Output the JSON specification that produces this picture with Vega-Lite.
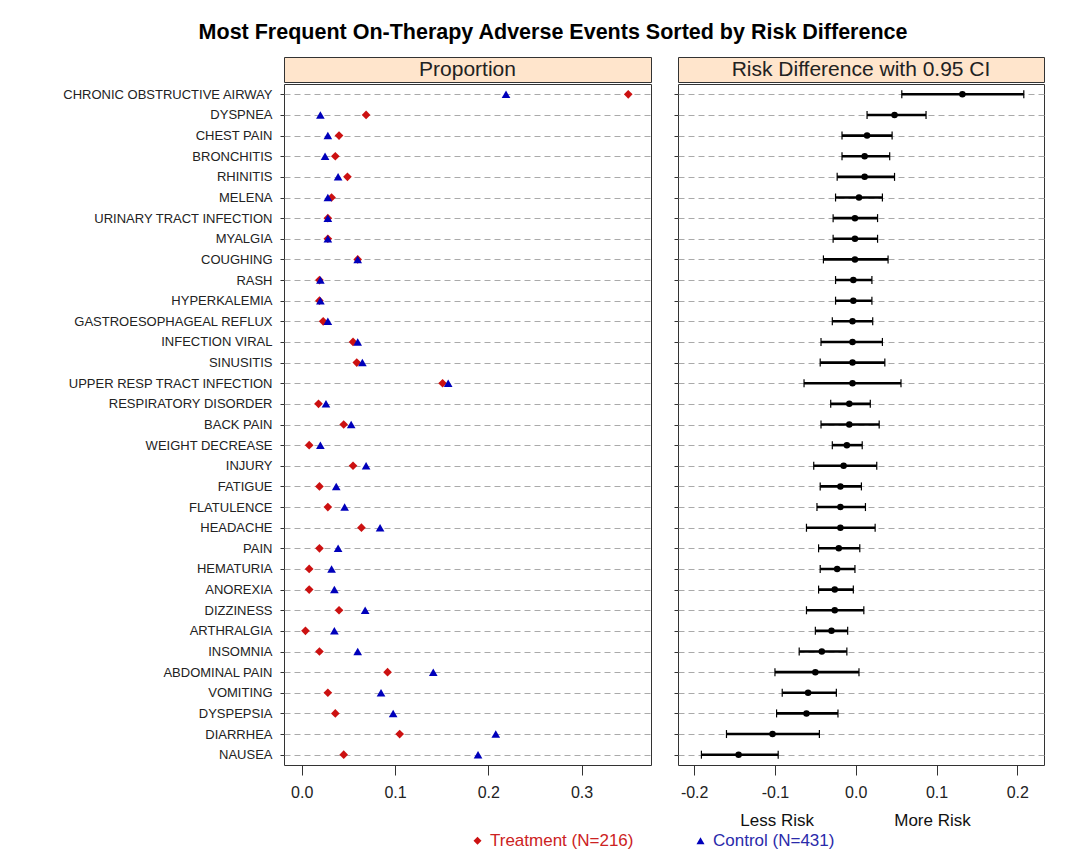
{
  "$schema": "https://vega.github.io/schema/vega-lite/v6.json",
  "padding": {"left": 61, "top": 22, "right": 10, "bottom": 5},
  "background": "white",
  "title": {
    "text": "Most Frequent On-Therapy Adverse Events Sorted by Risk Difference",
    "anchor": "middle",
    "fontSize": 21.5,
    "fontWeight": "bold",
    "font": "Liberation Sans",
    "color": "#000000",
    "offset": 13
  },
  "config": {
    "font": "Liberation Sans",
    "view": {"stroke": "#333333"},
    "axis": {"labelFont": "Liberation Sans", "titleFont": "Liberation Sans"},
    "legend": {"labelFont": "Liberation Sans"}
  },
  "datasets": {
    "ae": [
      {"event": "CHRONIC OBSTRUCTIVE AIRWAY", "treatment": 0.350, "control": 0.219, "rd": 0.132, "lo": 0.057, "hi": 0.208},
      {"event": "DYSPNEA", "treatment": 0.069, "control": 0.020, "rd": 0.048, "lo": 0.014, "hi": 0.087},
      {"event": "CHEST PAIN", "treatment": 0.040, "control": 0.028, "rd": 0.014, "lo": -0.017, "hi": 0.045},
      {"event": "BRONCHITIS", "treatment": 0.036, "control": 0.025, "rd": 0.011, "lo": -0.017, "hi": 0.042},
      {"event": "RHINITIS", "treatment": 0.049, "control": 0.039, "rd": 0.011, "lo": -0.023, "hi": 0.048},
      {"event": "MELENA", "treatment": 0.032, "control": 0.028, "rd": 0.004, "lo": -0.025, "hi": 0.033},
      {"event": "URINARY TRACT INFECTION", "treatment": 0.028, "control": 0.028, "rd": -0.001, "lo": -0.028, "hi": 0.027},
      {"event": "MYALGIA", "treatment": 0.028, "control": 0.028, "rd": -0.001, "lo": -0.028, "hi": 0.027},
      {"event": "COUGHING", "treatment": 0.060, "control": 0.060, "rd": -0.001, "lo": -0.040, "hi": 0.040},
      {"event": "RASH", "treatment": 0.019, "control": 0.020, "rd": -0.003, "lo": -0.025, "hi": 0.020},
      {"event": "HYPERKALEMIA", "treatment": 0.019, "control": 0.020, "rd": -0.003, "lo": -0.025, "hi": 0.020},
      {"event": "GASTROESOPHAGEAL REFLUX", "treatment": 0.023, "control": 0.028, "rd": -0.004, "lo": -0.029, "hi": 0.021},
      {"event": "INFECTION VIRAL", "treatment": 0.055, "control": 0.060, "rd": -0.004, "lo": -0.043, "hi": 0.033},
      {"event": "SINUSITIS", "treatment": 0.059, "control": 0.065, "rd": -0.004, "lo": -0.044, "hi": 0.036},
      {"event": "UPPER RESP TRACT INFECTION", "treatment": 0.151, "control": 0.157, "rd": -0.004, "lo": -0.064, "hi": 0.056},
      {"event": "RESPIRATORY DISORDER", "treatment": 0.018, "control": 0.026, "rd": -0.008, "lo": -0.031, "hi": 0.018},
      {"event": "BACK PAIN", "treatment": 0.045, "control": 0.053, "rd": -0.008, "lo": -0.043, "hi": 0.029},
      {"event": "WEIGHT DECREASE", "treatment": 0.008, "control": 0.020, "rd": -0.011, "lo": -0.029, "hi": 0.008},
      {"event": "INJURY", "treatment": 0.055, "control": 0.069, "rd": -0.015, "lo": -0.052, "hi": 0.026},
      {"event": "FATIGUE", "treatment": 0.019, "control": 0.037, "rd": -0.019, "lo": -0.044, "hi": 0.007},
      {"event": "FLATULENCE", "treatment": 0.028, "control": 0.046, "rd": -0.019, "lo": -0.048, "hi": 0.012},
      {"event": "HEADACHE", "treatment": 0.064, "control": 0.084, "rd": -0.019, "lo": -0.061, "hi": 0.024},
      {"event": "PAIN", "treatment": 0.019, "control": 0.039, "rd": -0.021, "lo": -0.046, "hi": 0.005},
      {"event": "HEMATURIA", "treatment": 0.008, "control": 0.032, "rd": -0.023, "lo": -0.044, "hi": -0.001},
      {"event": "ANOREXIA", "treatment": 0.008, "control": 0.035, "rd": -0.026, "lo": -0.046, "hi": -0.003},
      {"event": "DIZZINESS", "treatment": 0.040, "control": 0.068, "rd": -0.026, "lo": -0.061, "hi": 0.010},
      {"event": "ARTHRALGIA", "treatment": 0.004, "control": 0.035, "rd": -0.030, "lo": -0.050, "hi": -0.010},
      {"event": "INSOMNIA", "treatment": 0.019, "control": 0.060, "rd": -0.042, "lo": -0.070, "hi": -0.011},
      {"event": "ABDOMINAL PAIN", "treatment": 0.092, "control": 0.141, "rd": -0.050, "lo": -0.100, "hi": 0.004},
      {"event": "VOMITING", "treatment": 0.028, "control": 0.085, "rd": -0.059, "lo": -0.091, "hi": -0.024},
      {"event": "DYSPEPSIA", "treatment": 0.036, "control": 0.098, "rd": -0.061, "lo": -0.098, "hi": -0.022},
      {"event": "DIARRHEA", "treatment": 0.105, "control": 0.208, "rd": -0.103, "lo": -0.160, "hi": -0.045},
      {"event": "NAUSEA", "treatment": 0.045, "control": 0.189, "rd": -0.145, "lo": -0.191, "hi": -0.096}
    ]
  },
  "spacing": 21,
  "hconcat": [
    {
      "spacing": 0,
      "vconcat": [
        {
          "data": {"values": [{"label": "Proportion"}]},
          "width": 367,
          "height": 25,
          "view": {"fill": "#ffe5cc", "stroke": "#333333"},
          "mark": {"type": "text", "fontSize": 21, "color": "#222222", "font": "Liberation Sans"},
          "encoding": {"text": {"field": "label", "type": "nominal"}}
        },
        {
          "data": {"name": "ae"},
          "width": 367,
          "height": 681,
          "transform": [{"fold": ["treatment", "control"], "as": ["group", "prop"]}],
          "mark": {"type": "point", "filled": true, "opacity": 1, "size": 75},
          "encoding": {
            "y": {
              "field": "event", "type": "nominal", "sort": null,
              "scale": {"type": "point", "padding": 0.5},
              "axis": {
                "title": null, "labelFontSize": 13, "labelColor": "#222222", "labelLimit": 0,
                "tickSize": 4, "tickColor": "#333333", "labelPadding": 8,
                "domain": false, "grid": true, "gridDash": [6, 4],
                "gridColor": "#aaaaaa", "gridWidth": 1
              }
            },
            "x": {
              "field": "prop", "type": "quantitative",
              "scale": {"domain": [-0.019, 0.3744], "nice": false, "zero": false},
              "axis": {
                "title": null, "values": [0, 0.1, 0.2, 0.3], "format": ".1f",
                "labelFontSize": 16, "labelColor": "#222222", "tickSize": 10,
                "tickColor": "#333333", "labelPadding": 9, "domain": false,
                "grid": false, "labelFlush": false
              }
            },
            "color": {
              "field": "group", "type": "nominal",
              "scale": {"domain": ["treatment", "control"], "range": ["#cc1111", "#0000bb"]},
              "legend": {
                "orient": "none", "legendX": 185, "legendY": 775,
                "direction": "horizontal", "title": null, "padding": 0,
                "labelFontSize": 17, "symbolSize": 65, "columnPadding": 58,
                "labelOffset": 4,
                "labelExpr": "datum.value == 'treatment' ? 'Treatment (N=216)' : 'Control (N=431)'",
                "labelColor": {"expr": "datum.value == 'treatment' ? '#cc2222' : '#2a2aaa'"}
              }
            },
            "shape": {
              "field": "group", "type": "nominal",
              "scale": {"domain": ["treatment", "control"], "range": ["diamond", "triangle-up"]}
            }
          }
        }
      ]
    },
    {
      "spacing": 0,
      "vconcat": [
        {
          "data": {"values": [{"label": "Risk Difference with 0.95 CI"}]},
          "width": 366,
          "height": 25,
          "view": {"fill": "#ffe5cc", "stroke": "#333333"},
          "mark": {"type": "text", "fontSize": 21, "color": "#222222", "font": "Liberation Sans"},
          "encoding": {"text": {"field": "label", "type": "nominal"}}
        },
        {
          "data": {"name": "ae"},
          "width": 366,
          "height": 681,
          "encoding": {
            "y": {
              "field": "event", "type": "nominal", "sort": null,
              "scale": {"type": "point", "padding": 0.5},
              "axis": {
                "title": null, "labels": false,
                "tickSize": 4, "tickColor": "#333333",
                "domain": false, "grid": true, "gridDash": [6, 4],
                "gridColor": "#aaaaaa", "gridWidth": 1
              }
            }
          },
          "layer": [
            {
              "mark": {"type": "rule", "color": "#000000", "strokeDash": [2, 3], "strokeWidth": 1.8},
              "encoding": {
                "x": {
                  "datum": 0, "type": "quantitative",
                  "scale": {"domain": [-0.220, 0.233], "nice": false, "zero": false},
                  "axis": {
                    "title": "Less Risk\u00a0\u00a0\u00a0\u00a0\u00a0\u00a0\u00a0\u00a0\u00a0\u00a0\u00a0\u00a0\u00a0\u00a0\u00a0\u00a0\u00a0More Risk",
                    "titleFontSize": 17, "titleFontWeight": "normal", "titleColor": "#111111",
                    "titlePadding": 12, "titleX": 177,
                    "values": [-0.2, -0.1, 0, 0.1, 0.2],
                    "labelExpr": "datum.value < 0 ? '-' + format(-datum.value, '.1f') : format(datum.value, '.1f')",
                    "labelFontSize": 16, "labelColor": "#222222", "tickSize": 10,
                    "tickColor": "#333333", "labelPadding": 9, "domain": false,
                    "grid": false, "labelFlush": false
                  }
                }
              }
            },
            {
              "mark": {"type": "rule", "color": "#000000", "strokeWidth": 2.6},
              "encoding": {
                "x": {"field": "lo", "type": "quantitative"},
                "x2": {"field": "hi"}
              }
            },
            {
              "mark": {"type": "tick", "orient": "vertical", "color": "#000000", "size": 8, "thickness": 1.2, "opacity": 1},
              "encoding": {"x": {"field": "lo", "type": "quantitative"}}
            },
            {
              "mark": {"type": "tick", "orient": "vertical", "color": "#000000", "size": 8, "thickness": 1.2, "opacity": 1},
              "encoding": {"x": {"field": "hi", "type": "quantitative"}}
            },
            {
              "mark": {"type": "point", "shape": "circle", "filled": true, "color": "#000000", "opacity": 1, "size": 42},
              "encoding": {"x": {"field": "rd", "type": "quantitative"}}
            }
          ]
        }
      ]
    }
  ]
}
